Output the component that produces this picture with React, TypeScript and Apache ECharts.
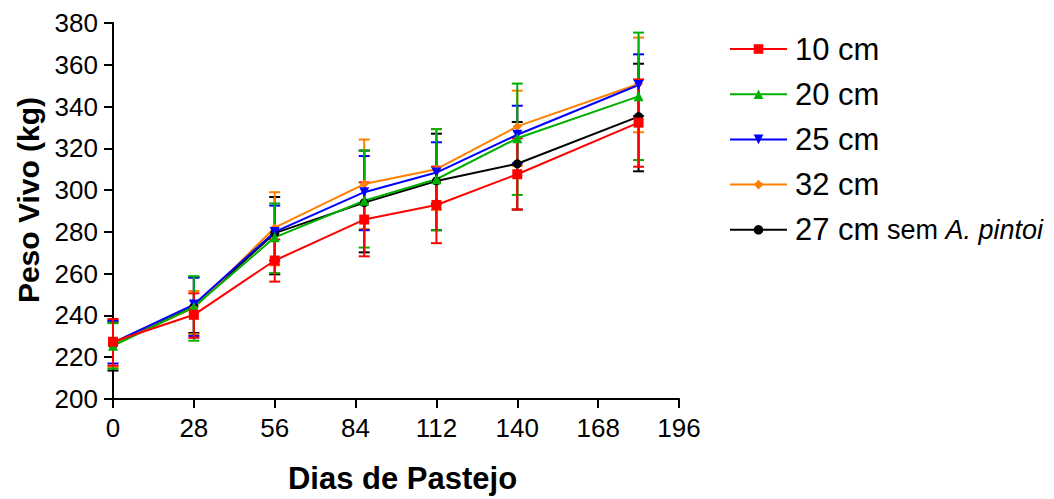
import React, { useEffect, useRef } from "react";
import * as echarts from "echarts";

const days = [0, 28, 56, 87, 112, 140, 182];

const names = ["10 cm", "20 cm", "25 cm", "32 cm", "27 cm sem A. pintoi"];
const colors = ["#FF0000", "#00B000", "#0000FF", "#FF8000", "#000000"];
const symbols = ["rect", "triangle", "path://M0,0L10,0L5,10Z", "diamond", "circle"];
const symbolSizes = [10, 10, 10, 9, 9];

const mean10 = [227.4, 240.3, 266.3, 285.9, 292.9, 307.6, 332.3];
const low10 = [216, 229.3, 256.2, 268.3, 274.6, 290.7, 311.2];
const high10 = [238.3, 250.6, 276.4, 303.7, 311.2, 324.8, 353];

const mean20 = [225.5, 244, 277.4, 294.9, 305.2, 324.8, 344.9];
const low20 = [214.5, 227.9, 260.3, 272.5, 280.8, 297.7, 314.4];
const high20 = [236.3, 258.8, 293.6, 319, 329.2, 351, 375.4];

const mean25 = [227, 245.2, 280, 299, 308.4, 326.5, 350.3];
const low25 = [217, 230.2, 266.3, 280.8, 293.5, 312.8, 335.5];
const high25 = [237.5, 258.2, 292.6, 316.3, 322.9, 340.4, 365];

const mean32 = [226, 243.6, 282, 302.9, 310, 330.5, 350.8];
const low32 = [215.3, 231, 264, 281.4, 290.5, 311.6, 327.7];
const high32 = [237.5, 251.7, 299, 324.2, 329.2, 347.6, 373];

const mean27 = [226, 244.2, 279.4, 294, 304.4, 312.6, 335.2];
const low27 = [213.6, 231.6, 259.7, 270.2, 280.8, 290.7, 309];
const high27 = [237, 258.2, 296.7, 318.9, 327, 332.6, 360.5];

const means = [mean10, mean20, mean25, mean32, mean27];
const lows = [low10, low20, low25, low32, low27];
const highs = [high10, high20, high25, high32, high27];

const FONT = "'Liberation Sans', Arial, sans-serif";

export default function App() {
  const ref = useRef<HTMLDivElement>(null);
  useEffect(() => {
    if (!ref.current) return;
    const chart = echarts.init(ref.current, null, { renderer: "svg" });
    const series: any[] = [];
    const order = [4, 3, 2, 1, 0];
    order.forEach((i) => {
      const color = colors[i];
      series.push({
        type: "custom",
        name: names[i] + " err",
        silent: true,
        data: days.map((d, k) => [d, lows[i][k], highs[i][k]]),
        encode: { x: 0, y: [1, 2] },
        renderItem: (params: any, api: any) => {
          const x = api.value(0);
          const lo = api.coord([x, api.value(1)]);
          const hi = api.coord([x, api.value(2)]);
          const hw = 5.5;
          const style = { stroke: color, lineWidth: 2 };
          return {
            type: "group",
            children: [
              { type: "line", shape: { x1: lo[0], y1: lo[1], x2: hi[0], y2: hi[1] }, style },
              { type: "line", shape: { x1: lo[0] - hw, y1: lo[1], x2: lo[0] + hw, y2: lo[1] }, style },
              { type: "line", shape: { x1: hi[0] - hw, y1: hi[1], x2: hi[0] + hw, y2: hi[1] }, style },
            ],
          };
        },
      });
      series.push({
        type: "line",
        name: names[i],
        data: days.map((d, k) => [d, means[i][k]]),
        symbol: symbols[i],
        symbolSize: symbolSizes[i],
        showAllSymbol: true,
        lineStyle: { color, width: 2 },
        itemStyle: { color },
      });
    });

    chart.setOption({
      animation: false,
      textStyle: { fontFamily: FONT },
      grid: { left: 113, right: 375, top: 23, bottom: 92, containLabel: false },
      xAxis: {
        type: "value",
        min: 0,
        max: 196,
        interval: 28,
        name: "Dias de Pastejo",
        nameLocation: "middle",
        nameGap: 64,
        nameTextStyle: { fontSize: 31, fontWeight: "bold", color: "#000", fontFamily: FONT, padding: [0, 0, 0, 13] },
        axisLine: { lineStyle: { color: "#000", width: 2 } },
        axisTick: { length: 9, lineStyle: { color: "#000", width: 2 } },
        axisLabel: { fontSize: 26, color: "#000", margin: 16, fontFamily: FONT },
        splitLine: { show: false },
      },
      yAxis: {
        type: "value",
        min: 200,
        max: 380,
        interval: 20,
        name: "Peso Vivo (kg)",
        nameLocation: "middle",
        nameGap: 66,
        nameTextStyle: { fontSize: 30, fontWeight: "bold", color: "#000", fontFamily: FONT, padding: [0, 0, 0, 22] },
        axisLine: { show: true, lineStyle: { color: "#000", width: 2 } },
        axisTick: { show: true, length: 9, lineStyle: { color: "#000", width: 2 } },
        axisLabel: { fontSize: 26, color: "#000", margin: 15, fontFamily: FONT },
        splitLine: { show: false },
      },
      legend: {
        data: names,
        orient: "vertical",
        left: 729,
        top: 33.5,
        padding: 0,
        itemWidth: 57,
        itemHeight: 12,
        itemGap: 14.2,
        selectedMode: false,
        formatter: (name: string) => {
          if (name === names[4]) return "{a|27 cm}{b| sem }{c|A. pintoi}";
          return "{a|" + name + "}";
        },
        textStyle: {
          color: "#000",
          fontFamily: FONT,
          padding: [0, 0, 0, 3],
          rich: {
            a: { fontSize: 31, lineHeight: 30, color: "#000", fontFamily: FONT },
            b: { fontSize: 27, lineHeight: 30, color: "#000", fontFamily: FONT },
            c: { fontSize: 27, lineHeight: 30, color: "#000", fontStyle: "italic", fontFamily: FONT },
          },
        },
      },
      series,
    });
    return () => chart.dispose();
  }, []);
  return (
    <div
      ref={ref}
      style={{ position: "fixed", left: 0, top: 0, width: 1054, height: 499, background: "#fff" }}
    />
  );
}
